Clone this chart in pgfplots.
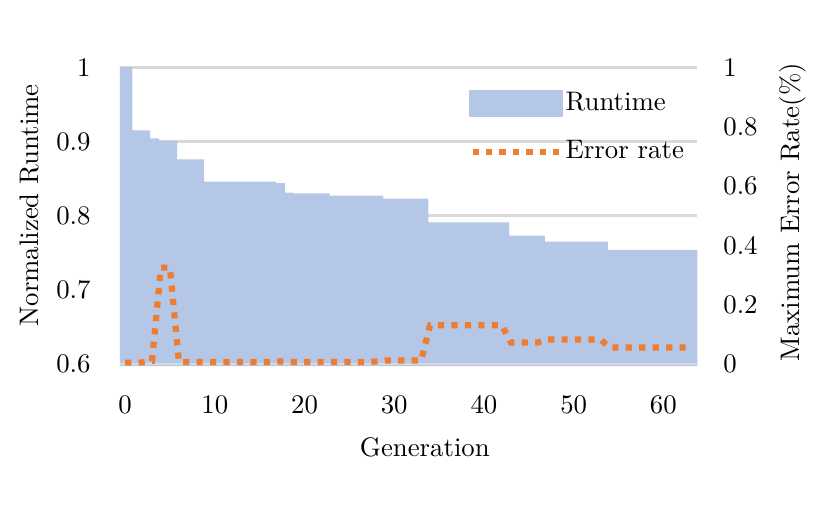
\documentclass[border=0pt]{standalone}
\usepackage{pgfplots}
\pgfplotsset{compat=1.18}
\definecolor{areacol}{RGB}{180,199,231}
\definecolor{errcol}{RGB}{237,125,49}
\definecolor{gridcol}{RGB}{217,217,217}
\tikzset{errline/.style={errcol, line width=2.3bp, dash pattern=on 2.3bp off 2.7bp}}
\begin{document}
\begin{tikzpicture}
\useasboundingbox (0,0) rectangle (308.2bp,194.1bp);
\begin{axis}[
  at={(44.6bp,58.0bp)}, anchor=south west,
  scale only axis, width=214.7bp, height=111.1bp,
  xmin=-0.57, xmax=63.8, ymin=0.5973, ymax=1,
  axis line style={draw=none},
  major tick length=0pt,
  xtick={0,10,20,30,40,50,60},
  ytick={0.6,0.7,0.8,0.9,1},
  yticklabels={0.6,0.7,0.8,0.9,1},
  xticklabel style={yshift=-7.7bp},
  yticklabel style={xshift=-7.4bp},
  ymajorgrids, grid style={gridcol, line width=1bp},
  xlabel={Generation},
  xlabel style={at={(axis description cs:0.528,0)}, anchor=center, yshift=-30.1bp},
  ylabel={Normalized Runtime},
  ylabel style={at={(axis description cs:-0.1558,0.538)}, anchor=center},
]
\addplot[fill=areacol, draw=none, const plot mark left] coordinates {
(-0.57,1.0) (0.8,0.915) (2.8,0.904) (3.8,0.901) (5.8,0.876) (8.8,0.846)
(16.8,0.844) (17.8,0.831) (18.8,0.830) (22.8,0.827) (28.8,0.823)
(33.8,0.791) (42.8,0.773) (46.8,0.765) (53.8,0.754) (63.8,0.754)
} \closedcycle;
\end{axis}
\begin{axis}[
  at={(44.6bp,58.0bp)}, anchor=south west,
  scale only axis, width=214.7bp, height=111.1bp,
  xmin=-0.57, xmax=63.8, ymin=-0.0067, ymax=1,
  hide x axis,
  axis y line*=right,
  axis line style={draw=none},
  major tick length=0pt,
  ytick={0,0.2,0.4,0.6,0.8,1},
  yticklabels={0,0.2,0.4,0.6,0.8,1},
  yticklabel style={xshift=6.1bp},
  extra y ticks={0}, extra y tick labels={},
  extra tick style={grid=major},
  grid style={gridcol, line width=1bp},
  ylabel={Maximum Error Rate(\%)},
  every axis y label/.style={at={(axis description cs:1.165,0.515)}, rotate=90, anchor=center},
  legend style={at={(axis description cs:0.604,0.926)}, anchor=north west,
    draw=none, fill=none, inner sep=0pt, row sep=7.6bp, nodes={inner sep=1bp}},
  legend cell align=left,
]
\addlegendimage{legend image code/.code={\fill[areacol] (0bp,-4.85bp) rectangle (34.4bp,4.85bp);}}
\addlegendentry{Runtime}
\addplot[errline,
  legend image code/.code={\draw[errline] (1bp,0bp) -- (33bp,0bp);}] coordinates {
(0,0.005) (1,0.005) (2,0.006) (3,0.01) (4,0.325) (5,0.325) (6,0.008)
(7,0.007) (8,0.007) (9,0.007) (10,0.007) (11,0.007) (12,0.007) (13,0.007)
(14,0.007) (15,0.007) (16,0.007) (17,0.009) (18,0.009) (19,0.007) (20,0.007)
(21,0.007) (22,0.007) (23,0.007) (24,0.007) (25,0.007) (26,0.007) (27,0.007)
(28,0.009) (29,0.012) (30,0.012) (31,0.012) (32,0.012) (33,0.012)
(34,0.131) (35,0.131) (36,0.131) (37,0.131) (38,0.131) (39,0.131) (40,0.131)
(41,0.131) (42,0.131) (43,0.073) (44,0.073) (45,0.073) (46,0.073)
(47,0.083) (48,0.083) (49,0.083) (50,0.083) (51,0.083) (52,0.083) (53,0.083)
(54,0.056) (55,0.056) (56,0.056) (57,0.056) (58,0.056) (59,0.056) (60,0.056)
(61,0.056) (62,0.056) (63,0.056)
};
\addlegendentry{Error rate}
\end{axis}
\end{tikzpicture}
\end{document}
